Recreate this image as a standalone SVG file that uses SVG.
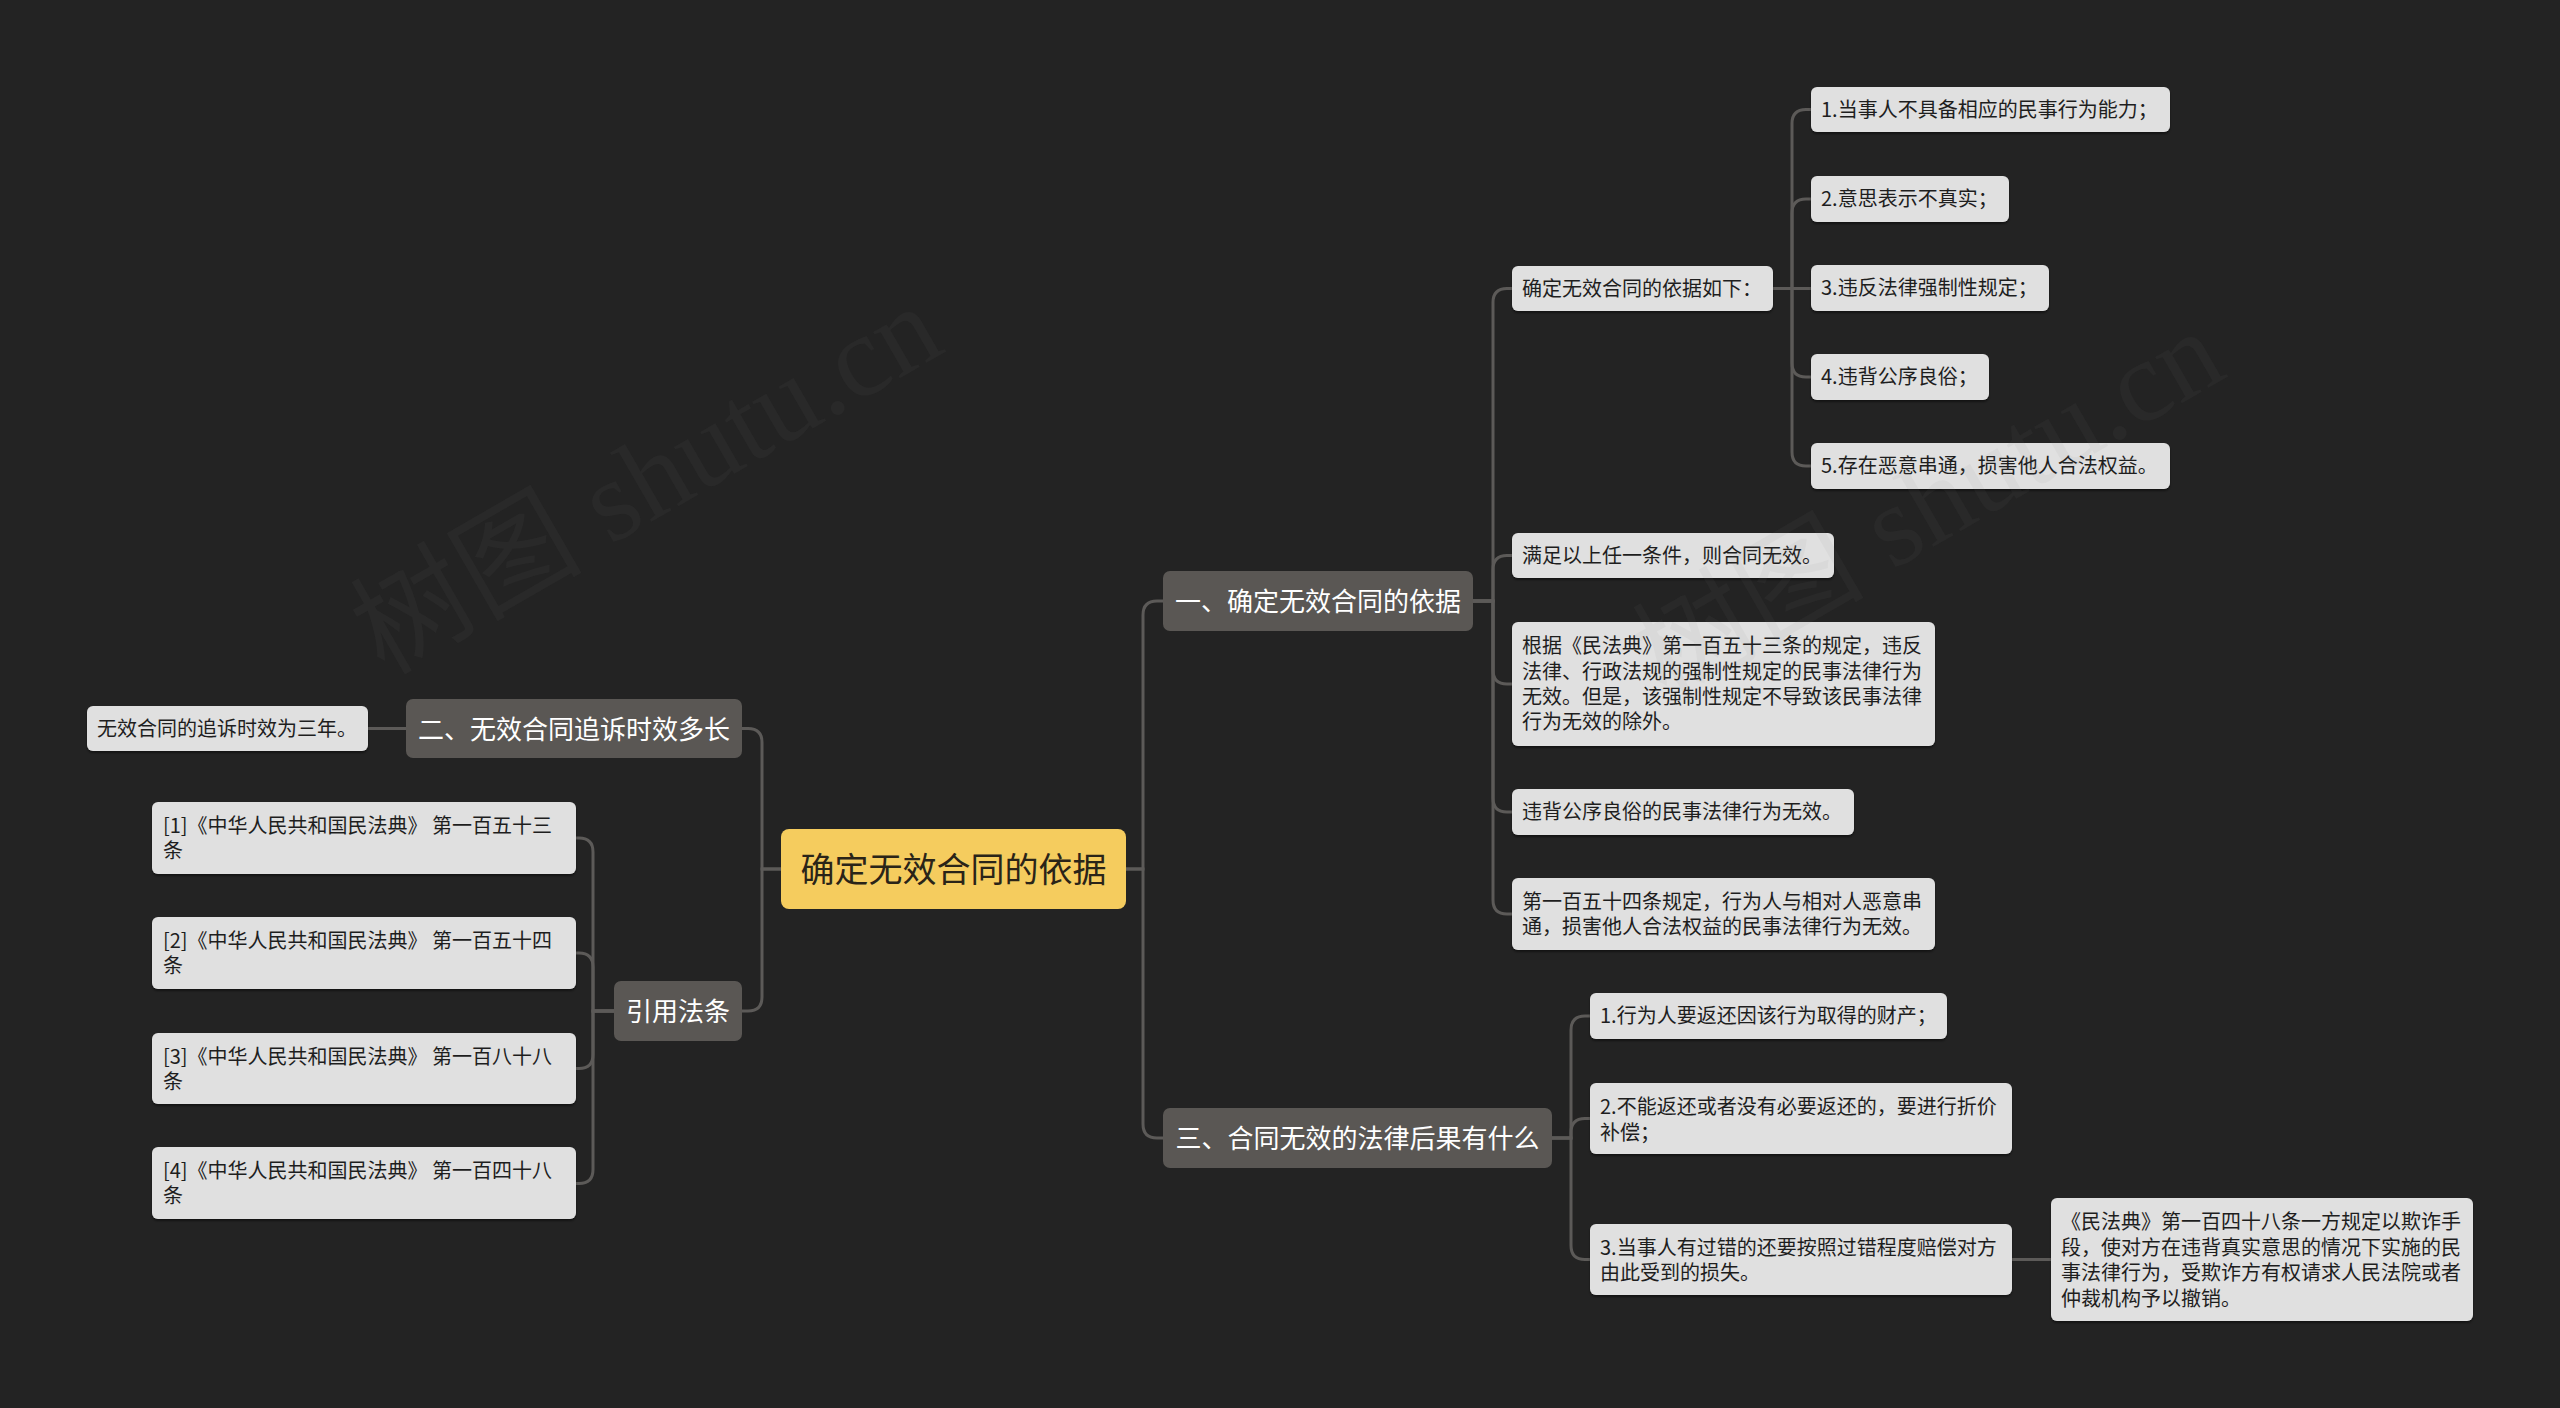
<svg xmlns="http://www.w3.org/2000/svg" width="2560" height="1408" viewBox="0 0 2560 1408">
<defs>
<style>
.bg{fill:#232323}
.root rect{fill:#f5cc5e}
.root text{fill:#2a2418;font-size:34px}
.branch rect{fill:#5a5754}
.branch text{fill:#ffffff;font-size:26px;text-anchor:middle}
.leaf rect{fill:#e0e0e0;filter:url(#sh)}
.leaf text{fill:#1e1e1e;font-size:20px}
text{font-family:"Noto Sans CJK SC","Noto Sans",sans-serif}
.conn path{fill:none;stroke:#5c5a58;stroke-width:3}
.wm text{font-family:"Liberation Serif","Noto Sans CJK SC",serif;font-size:116px;fill:#7a7a7a;fill-opacity:0.07}
</style>
<filter id="sh" x="-5%" y="-10%" width="110%" height="130%">
<feDropShadow dx="0" dy="2" stdDeviation="1" flood-color="#000" flood-opacity="0.45"/>
</filter>
</defs>
<rect class="bg" x="0" y="0" width="2560" height="1408"/>

<g id="connectors" class="conn">
<path d="M1126,869 H1143 V615 Q1143,601 1157,601 H1163"/>
<path d="M1126,869 H1143 V1124 Q1143,1138 1157,1138 H1163"/>
<path d="M781,869 H762 V742.5 Q762,728.5 748,728.5 H742"/>
<path d="M781,869 H762 V997 Q762,1011 748,1011 H742"/>
<path d="M1473,601 H1493 V302.5 Q1493,288.5 1507,288.5 H1512"/>
<path d="M1473,601 H1493 V569.5 Q1493,555.5 1507,555.5 H1512"/>
<path d="M1473,601 H1493 V670 Q1493,684 1507,684 H1512"/>
<path d="M1473,601 H1493 V798 Q1493,812 1507,812 H1512"/>
<path d="M1473,601 H1493 V900 Q1493,914 1507,914 H1512"/>
<path d="M1773,288.5 H1792 V123.5 Q1792,109.5 1806,109.5 H1811"/>
<path d="M1773,288.5 H1792 V213 Q1792,199 1806,199 H1811"/>
<path d="M1773,288.5 H1811"/>
<path d="M1773,288.5 H1792 V363 Q1792,377 1806,377 H1811"/>
<path d="M1773,288.5 H1792 V452 Q1792,466 1806,466 H1811"/>
<path d="M1552,1138 H1571 V1030 Q1571,1016 1585,1016 H1590"/>
<path d="M1552,1138 H1571 V1132.5 Q1571,1118.5 1585,1118.5 H1590"/>
<path d="M1552,1138 H1571 V1245.5 Q1571,1259.5 1585,1259.5 H1590"/>
<path d="M2012,1259.5 H2051"/>
<path d="M406,728.5 H368"/>
<path d="M614,1011 H593 V852 Q593,838 579,838 H576"/>
<path d="M614,1011 H593 V967 Q593,953 579,953 H576"/>
<path d="M614,1011 H593 V1054.5 Q593,1068.5 579,1068.5 H576"/>
<path d="M614,1011 H593 V1169.5 Q593,1183.5 579,1183.5 H576"/>
</g>

<g id="root" class="root">
<rect x="781" y="829" width="345" height="80" rx="8"/>
<text x="953.5" y="882" text-anchor="middle">确定无效合同的依据</text>
</g>

<g id="b1" class="branch">
<rect x="1163" y="571" width="310" height="60" rx="7"/>
<text x="1318" y="611">一、确定无效合同的依据</text>
</g>
<g id="b2" class="branch">
<rect x="406" y="699" width="336" height="59" rx="7"/>
<text x="574" y="738.5">二、无效合同追诉时效多长</text>
</g>
<g id="b3" class="branch">
<rect x="1163" y="1108" width="389" height="60" rx="7"/>
<text x="1357.5" y="1148">三、合同无效的法律后果有什么</text>
</g>
<g id="b4" class="branch">
<rect x="614" y="981" width="128" height="60" rx="7"/>
<text x="678" y="1021">引用法条</text>
</g>

<g id="l1" class="leaf">
<rect x="1512" y="266" width="261" height="45" rx="6"/>
<text x="1522" y="295.5">确定无效合同的依据如下：</text>
</g>
<g id="l1a" class="leaf">
<rect x="1811" y="87" width="359" height="45" rx="6"/>
<text x="1821" y="116.5">1.当事人不具备相应的民事行为能力；</text>
</g>
<g id="l1b" class="leaf">
<rect x="1811" y="176" width="198" height="46" rx="6"/>
<text x="1821" y="206">2.意思表示不真实；</text>
</g>
<g id="l1c" class="leaf">
<rect x="1811" y="265" width="238" height="46" rx="6"/>
<text x="1821" y="295">3.违反法律强制性规定；</text>
</g>
<g id="l1d" class="leaf">
<rect x="1811" y="354" width="178" height="46" rx="6"/>
<text x="1821" y="384">4.违背公序良俗；</text>
</g>
<g id="l1e" class="leaf">
<rect x="1811" y="443" width="359" height="46" rx="6"/>
<text x="1821" y="473">5.存在恶意串通，损害他人合法权益。</text>
</g>
<g id="l2" class="leaf">
<rect x="1512" y="533" width="322" height="45" rx="6"/>
<text x="1522" y="562.5">满足以上任一条件，则合同无效。</text>
</g>
<g id="l3" class="leaf">
<rect x="1512" y="622" width="423" height="124" rx="6"/>
<text x="1522" y="653">根据《民法典》第一百五十三条的规定，违反</text>
<text x="1522" y="679">法律、行政法规的强制性规定的民事法律行为</text>
<text x="1522" y="704">无效。但是，该强制性规定不导致该民事法律</text>
<text x="1522" y="729">行为无效的除外。</text>
</g>
<g id="l4" class="leaf">
<rect x="1512" y="789" width="342" height="46" rx="6"/>
<text x="1522" y="819">违背公序良俗的民事法律行为无效。</text>
</g>
<g id="l5" class="leaf">
<rect x="1512" y="878" width="423" height="72" rx="6"/>
<text x="1522" y="909">第一百五十四条规定，行为人与相对人恶意串</text>
<text x="1522" y="934">通，损害他人合法权益的民事法律行为无效。</text>
</g>

<g id="m1" class="leaf">
<rect x="1590" y="993" width="357" height="46" rx="6"/>
<text x="1600" y="1023">1.行为人要返还因该行为取得的财产；</text>
</g>
<g id="m2" class="leaf">
<rect x="1590" y="1083" width="422" height="71" rx="6"/>
<text x="1600" y="1114">2.不能返还或者没有必要返还的，要进行折价</text>
<text x="1600" y="1140">补偿；</text>
</g>
<g id="m3" class="leaf">
<rect x="1590" y="1224" width="422" height="71" rx="6"/>
<text x="1600" y="1255">3.当事人有过错的还要按照过错程度赔偿对方</text>
<text x="1600" y="1280">由此受到的损失。</text>
</g>
<g id="m3a" class="leaf">
<rect x="2051" y="1198" width="422" height="123" rx="6"/>
<text x="2061" y="1229">《民法典》第一百四十八条一方规定以欺诈手</text>
<text x="2061" y="1255">段，使对方在违背真实意思的情况下实施的民</text>
<text x="2061" y="1280">事法律行为，受欺诈方有权请求人民法院或者</text>
<text x="2061" y="1306">仲裁机构予以撤销。</text>
</g>

<g id="n1" class="leaf">
<rect x="87" y="706" width="281" height="45" rx="6"/>
<text x="97" y="735.5">无效合同的追诉时效为三年。</text>
</g>
<g id="r1" class="leaf">
<rect x="152" y="802" width="424" height="72" rx="6"/>
<text x="163" y="833">[1]《中华人民共和国民法典》 第一百五十三</text>
<text x="163" y="858">条</text>
</g>
<g id="r2" class="leaf">
<rect x="152" y="917" width="424" height="72" rx="6"/>
<text x="163" y="948">[2]《中华人民共和国民法典》 第一百五十四</text>
<text x="163" y="973">条</text>
</g>
<g id="r3" class="leaf">
<rect x="152" y="1033" width="424" height="71" rx="6"/>
<text x="163" y="1064">[3]《中华人民共和国民法典》 第一百八十八</text>
<text x="163" y="1089">条</text>
</g>
<g id="r4" class="leaf">
<rect x="152" y="1147" width="424" height="72" rx="6"/>
<text x="163" y="1178">[4]《中华人民共和国民法典》 第一百四十八</text>
<text x="163" y="1203">条</text>
</g>

<g id="watermark" class="wm">
<text transform="translate(384,676) rotate(-30)">树图 shutu.cn</text>
<text transform="translate(1666,701) rotate(-30)">树图 shutu.cn</text>
</g>
</svg>
